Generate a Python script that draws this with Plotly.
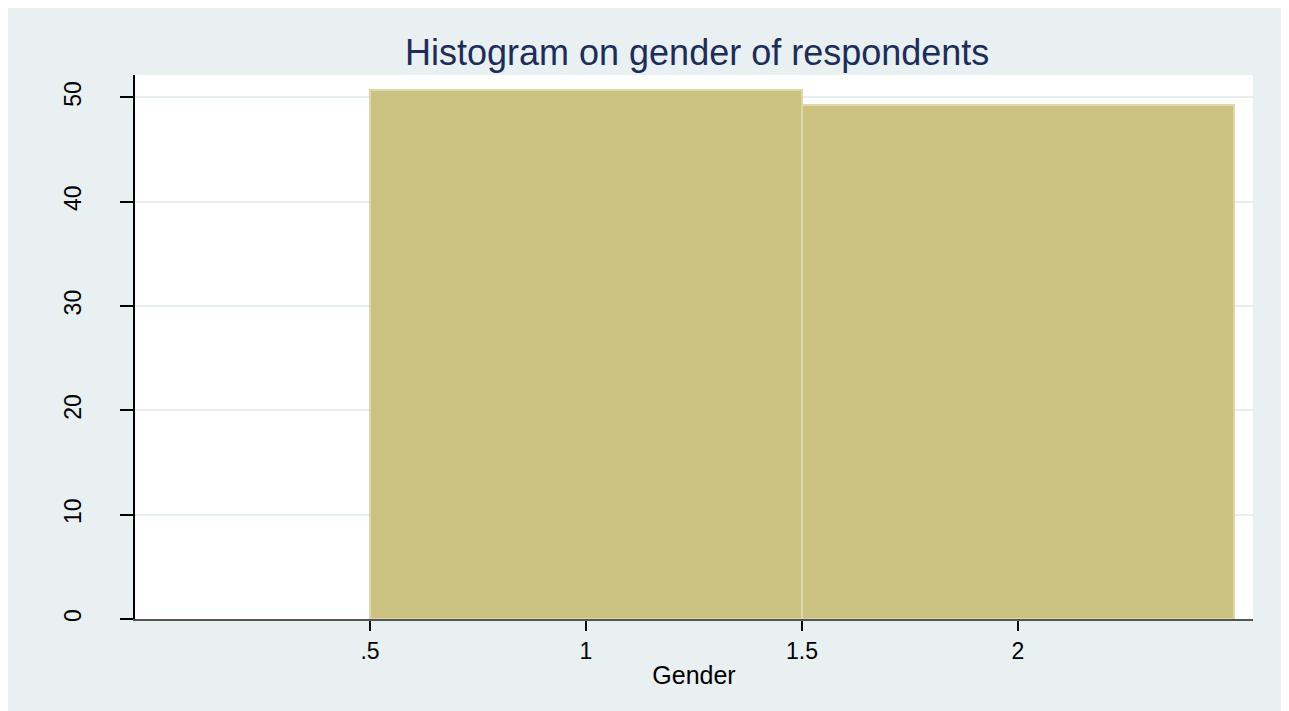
import plotly.graph_objects as go

# histogram bins (Gender) and percent of respondents
bin_centers = [1, 2]
bin_widths = [1, 1]
percent = [50.7, 49.3]

x_tickvals = [0.5, 1, 1.5, 2]
x_ticktext = [".5", "1", "1.5", "2"]
y_tickvals = [0, 10, 20, 30, 40, 50]

bg = "#e9f0f2"
fnt = "Liberation Sans, Arial, sans-serif"

fig = go.Figure()
fig.add_trace(go.Bar(
    x=bin_centers, y=percent, width=bin_widths,
    marker=dict(color="#cbc281", line=dict(color="#ddd8a8", width=2)),
    showlegend=False,
))

# page has an 8px body margin, so the figure is a bit smaller than the window
fig.update_layout(
    width=1281, height=703,
    paper_bgcolor=bg, plot_bgcolor="white",
    margin=dict(l=127, r=36, t=67, b=92),
    bargap=0,
    title=dict(text="Histogram on gender of respondents", x=0.538, xanchor="center",
               y=0.937, yanchor="middle",
               font=dict(family=fnt, size=36, color="#1c2d5a")),
    font=dict(family=fnt, color="black"),
)

fig.update_xaxes(
    range=[-0.044, 2.544],
    tickvals=x_tickvals, ticktext=x_ticktext,
    ticks="outside", ticklen=10, tickcolor="black", tickwidth=1.5,
    tickfont=dict(size=23),
    showgrid=False, zeroline=False,
    showline=True, linecolor="#555555", linewidth=2,
    title=dict(text="Gender", font=dict(size=25), standoff=4),
)
fig.update_yaxes(
    range=[0, 52.15],
    tickvals=y_tickvals, tickangle=-90,
    ticks="outside", ticklen=13, tickcolor="black", tickwidth=1.5,
    tickfont=dict(size=23), ticklabelstandoff=30,
    showgrid=True, gridcolor="#e6eef0", gridwidth=2,
    zeroline=False,
    showline=True, linecolor="black", linewidth=1.5,
)

fig.write_html("out.html")
